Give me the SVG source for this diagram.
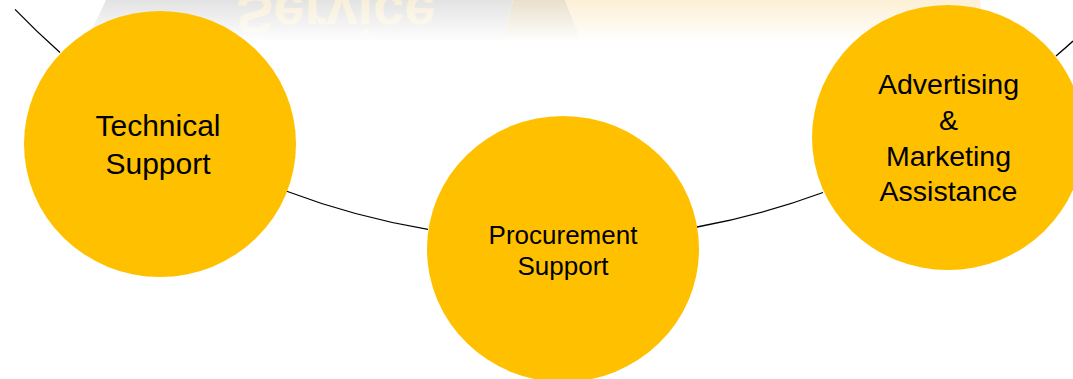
<svg xmlns="http://www.w3.org/2000/svg" width="1073" height="379" viewBox="0 0 1073 379">
  <defs>
    <linearGradient id="fade" x1="0" y1="0" x2="0" y2="1">
      <stop offset="0" stop-color="#ffffff" stop-opacity="0"/>
      <stop offset="1" stop-color="#ffffff" stop-opacity="1"/>
    </linearGradient>
    <style>
      .node { fill: #FFC000; }
      .lbl { font-family: "Liberation Sans", Arial, sans-serif; fill: #000000; text-anchor: middle; }
      .conn { fill: none; stroke: #000000; stroke-width: 1.3; }
    </style>
  </defs>
  <rect x="0" y="0" width="1073" height="379" fill="#ffffff"/>
  <g id="background">
    <polygon points="106,0 513,0 503,42 86,42" fill="#e3e3e3"/>
    <polygon points="513,0 565,0 582,42 503,42" fill="#e9e0cc"/>
    <polygon points="565,0 980,0 985,42 582,42" fill="#fcf0d5"/>
    <g transform="translate(0,-5) scale(1,-1)">
      <text x="236" y="0" font-family="Liberation Sans, Arial, sans-serif" font-weight="bold" font-size="56" fill="#f8efd9">Service</text>
    </g>
    <rect x="0" y="0" width="1073" height="42" fill="url(#fade)"/>
  </g>
  <g id="connectors">
    <path class="conn" d="M 15 9.4 A 757 757 0 0 0 60 52.4"/>
    <path class="conn" d="M 286 191 A 757 757 0 0 0 428 229.4"/>
    <path class="conn" d="M 697 227 A 757 757 0 0 0 823 192.5"/>
    <path class="conn" d="M 1056 56 A 757 757 0 0 0 1073 41"/>
  </g>
  <g id="node-technical">
    <ellipse class="node" cx="160" cy="144" rx="136" ry="133"/>
    <text class="lbl" x="158" y="136" font-size="30">Technical</text>
    <text class="lbl" x="158" y="174" font-size="30">Support</text>
  </g>
  <g id="node-procurement">
    <ellipse class="node" cx="563" cy="249" rx="136" ry="133"/>
    <text class="lbl" x="563" y="244" font-size="26">Procurement</text>
    <text class="lbl" x="563" y="275" font-size="26">Support</text>
  </g>
  <g id="node-advertising">
    <ellipse class="node" cx="948" cy="137.5" rx="136" ry="132.5"/>
    <text class="lbl" x="948.5" y="94" font-size="28.5">Advertising</text>
    <text class="lbl" x="948.5" y="130" font-size="28.5">&amp;</text>
    <text class="lbl" x="948.5" y="166" font-size="28.5">Marketing</text>
    <text class="lbl" x="948.5" y="201" font-size="28.5">Assistance</text>
  </g>
</svg>
